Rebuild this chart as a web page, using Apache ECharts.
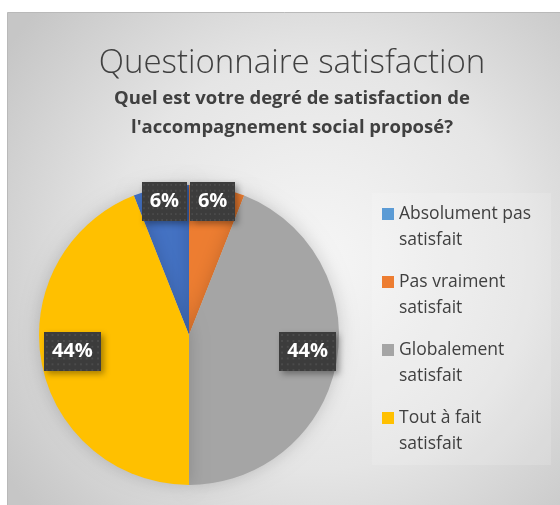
<!DOCTYPE html>
<html>
<head>
<meta charset="utf-8">
<script src="https://cdn.jsdelivr.net/npm/echarts@6/dist/echarts.min.js"></script>
<style>
  html, body { margin: 0; padding: 0; background: #ffffff; }
  #chart { width: 560px; height: 505px; }
</style>
</head>
<body>
<div id="chart"></div>
<script>
// Survey answers, share of respondents in percent
const categories = [
  'Absolument pas\nsatisfait',
  'Pas vraiment\nsatisfait',
  'Globalement\nsatisfait',
  'Tout à fait\nsatisfait'
];
const values = [6, 6, 44, 44];
const sliceColors = ['#4472C4', '#ED7D31', '#A5A5A5', '#FFC000'];
const legendColors = ['#5B9BD5', '#ED7D31', '#A5A5A5', '#FFC000'];

// Nudges for the value boxes away from the default inside position
const labelShift = [[-10, -57], [9, -57], [42, 2], [-40, 2]];

const FONT = '"Open Sans", "Noto Sans", sans-serif';

// Dark dotted texture for the value boxes
function dottedTexture(w, h) {
  const c = document.createElement('canvas');
  c.width = w; c.height = h;
  const g = c.getContext('2d');
  g.fillStyle = '#3c3c3c';
  g.fillRect(0, 0, w, h);
  g.fillStyle = '#4b4b4b';
  for (let y = 2; y < h; y += 6) {
    for (let x = 2; x < w; x += 6) {
      g.fillRect(x, y, 2, 2);
    }
  }
  return c;
}
const texture = dottedTexture(60, 40);

const chart = echarts.init(document.getElementById('chart'), null, { renderer: 'canvas' });

chart.setOption({
  backgroundColor: '#ffffff',
  animation: false,
  graphic: [
    {
      type: 'rect', z: -10, silent: true,
      shape: { x: 7.5, y: 12.5, width: 560, height: 500 },
      style: {
        fill: {
          type: 'radial', x: 0.55, y: 0.5, r: 0.75,
          colorStops: [
            { offset: 0, color: '#f6f6f6' },
            { offset: 0.55, color: '#e5e5e5' },
            { offset: 1, color: '#c6c6c6' }
          ]
        },
        stroke: '#b9b9b9', lineWidth: 1
      }
    },
    {
      type: 'rect', z: -9, silent: true,
      shape: { x: 372, y: 193, width: 179, height: 272 },
      style: { fill: 'rgba(255,255,255,0.14)' }
    }
  ],
  title: [
    {
      text: 'Questionnaire satisfaction',
      left: 287, top: 42, textAlign: 'center',
      textStyle: { fontFamily: FONT, fontWeight: 300, fontSize: 33, color: '#404040' }
    },
    {
      text: "Quel est votre degré de satisfaction de\nl'accompagnement social proposé?",
      left: 287, top: 79, textAlign: 'center',
      textStyle: { fontFamily: FONT, fontWeight: 'bold', fontSize: 18.5, lineHeight: 29, color: '#404040' }
    }
  ],
  legend: {
    orient: 'vertical',
    left: 382, top: 201,
    padding: 0,
    itemWidth: 12, itemHeight: 38,
    itemGap: 16,
    icon: 'path://M0,0h12v12h-12z M0,38h12',
    itemStyle: { borderWidth: 0 },
    textStyle: { fontFamily: FONT, fontSize: 17.5, lineHeight: 26, color: '#404040' },
    data: categories.map((name, i) => ({ name, itemStyle: { color: legendColors[i] } }))
  },
  series: [
    {
      type: 'pie',
      center: [189, 335],
      radius: 150,
      startAngle: 90 + values[0] / 100 * 360,
      clockwise: true,
      avoidLabelOverlap: false,
      itemStyle: {
        borderWidth: 0,
        shadowBlur: 18,
        shadowColor: 'rgba(0,0,0,0.18)'
      },
      label: {
        show: true,
        position: 'inside',
        formatter: '{c}%',
        fontFamily: FONT,
        fontWeight: 'bold',
        fontSize: 20,
        color: '#ffffff',
        padding: [10, 8, 9, 8],
        backgroundColor: { image: texture },
        shadowBlur: 6,
        shadowOffsetX: 3,
        shadowOffsetY: 3,
        shadowColor: 'rgba(0,0,0,0.35)'
      },
      labelLine: { show: false },
      labelLayout: (p) => ({ dx: labelShift[p.dataIndex][0], dy: labelShift[p.dataIndex][1] }),
      emphasis: { disabled: true },
      data: categories.map((name, i) => ({
        name, value: values[i], itemStyle: { color: sliceColors[i] }
      }))
    }
  ]
});
</script>
</body>
</html>
